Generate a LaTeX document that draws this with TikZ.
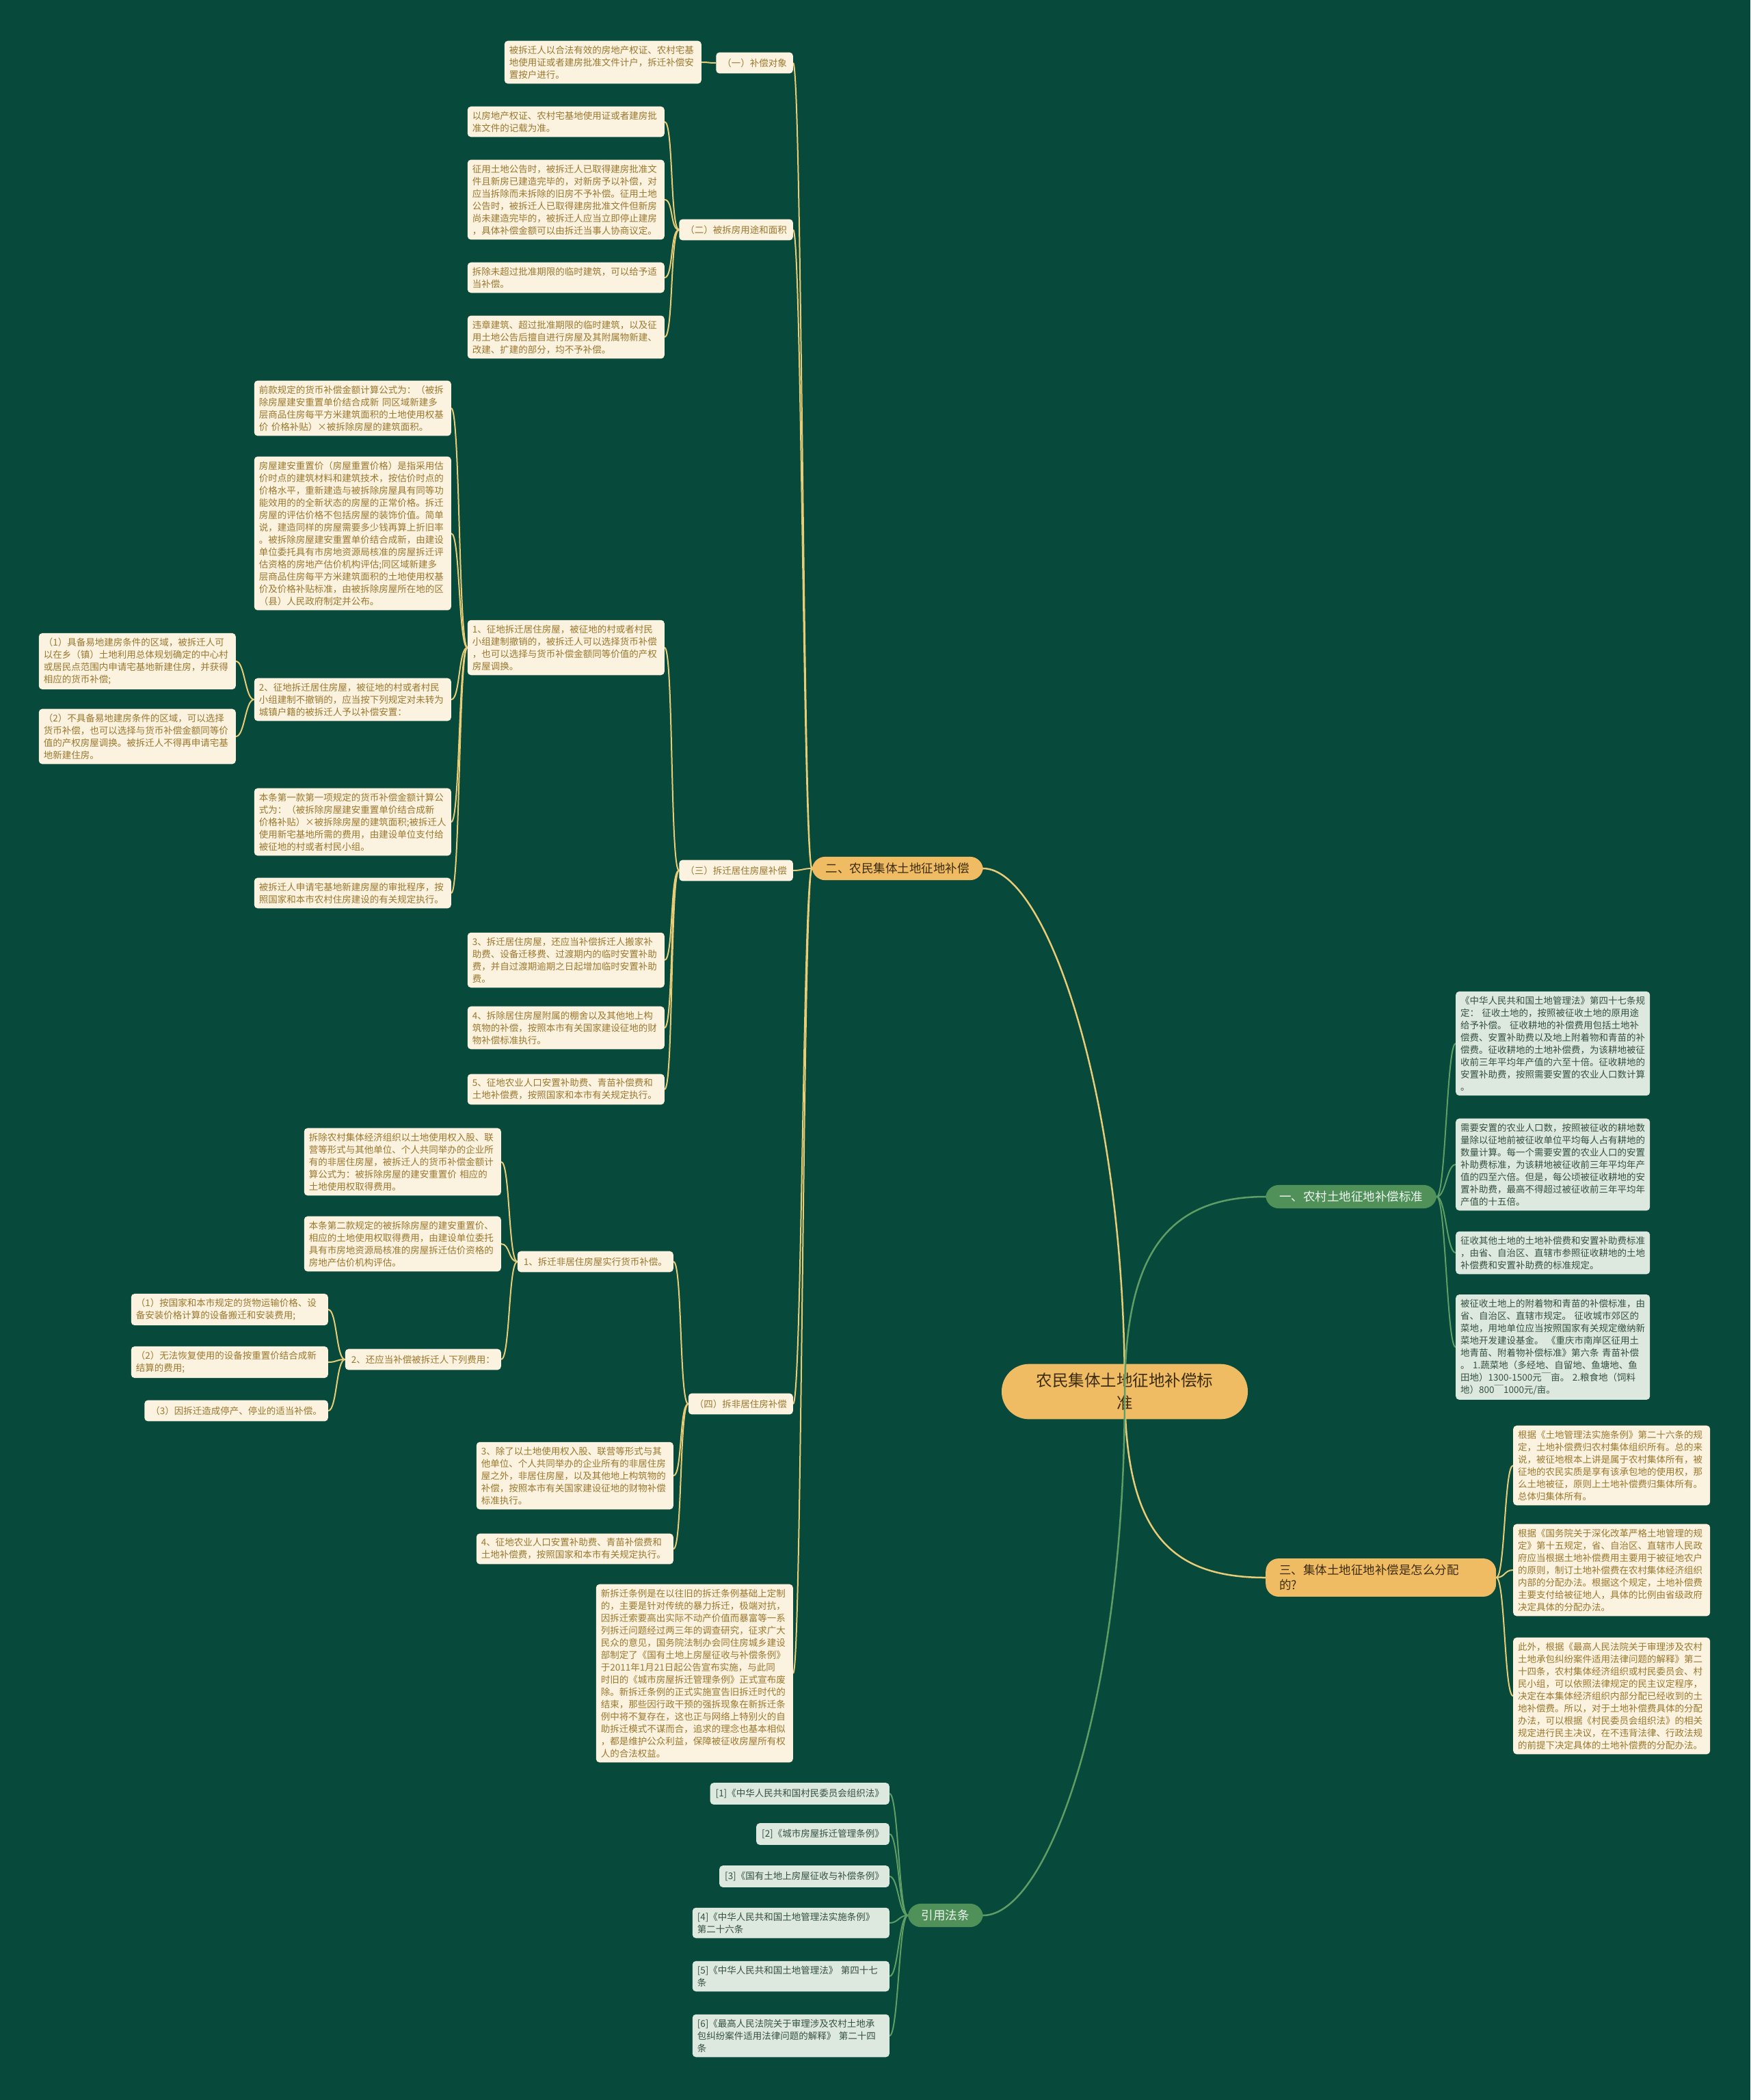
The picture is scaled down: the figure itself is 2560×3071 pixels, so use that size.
\documentclass[tikz,border=0pt]{standalone}
\usepackage{fontspec}
\setmainfont{Noto Sans CJK SC}
\usetikzlibrary{backgrounds}

\definecolor{bggreen}{HTML}{07493A}
\definecolor{cream}{HTML}{FCF2E0}
\definecolor{leaftext}{HTML}{9A782E}
\definecolor{goldline}{HTML}{E8CC78}
\definecolor{goldfill}{HTML}{F0BC63}
\definecolor{goldtext}{HTML}{3D2C0E}
\definecolor{greenfill}{HTML}{4F9159}
\definecolor{greenline}{HTML}{5E9E66}
\definecolor{greenleaf}{HTML}{DDE8DE}
\definecolor{greentext}{HTML}{35513F}

\tikzset{
  box/.style={rectangle, rounded corners=5pt, fill=cream, text=leaftext,
    font=\fontsize{13.5}{18}\selectfont, align=left, inner xsep=9pt, inner ysep=9pt},
  leaf/.style={box, text width=274pt, inner xsep=7pt, inner ysep=7pt},
  gbox/.style={box, fill=greenleaf, text=greentext, inner xsep=8pt},
  gleaf/.style={leaf, fill=greenleaf, text=greentext},
  branch/.style={rectangle, rounded corners=19pt, fill=goldfill, text=goldtext,
    font=\fontsize{17.5}{22}\selectfont, inner xsep=20pt, inner ysep=9pt},
  gbranch/.style={branch, fill=greenfill, text=white!92!greenfill},
  rootbox/.style={rectangle, rounded corners=40pt, fill=goldfill, text=goldtext,
    font=\fontsize{23.5}{33}\selectfont, text width=262pt, align=center,
    inner xsep=49pt, inner ysep=13pt},
  goldlink/.style={draw=goldline, line width=2pt},
  greenlink/.style={draw=greenline, line width=2pt}
}

\begin{document}
\begin{tikzpicture}[x=1pt, y=-1pt]
  \useasboundingbox (0,0) rectangle (2560,3071);

  % Zentrum
  \node[rootbox] (root) at (1645,2035) {农民集体土地征地补偿标\\准};

  % Hauptaeste
  \node[branch, anchor=east] (er) at (1438,1270) {二、农民集体土地征地补偿};
  \node[gbranch, anchor=west] (yi) at (1851,1750) {一、农村土地征地补偿标准};
  \node[branch, anchor=west, text width=297pt, align=left] (san) at (1851,2307) {三、集体土地征地补偿是怎么分配\\的?};
  \node[gbranch, anchor=east] (yin) at (1438,2801) {引用法条};

  % (一) Objekt
  \node[box, anchor=east] (duixiang) at (1160,92) {（一）补偿对象};
  \node[leaf, anchor=east] (t1) at (1026,91) {被拆迁人以合法有效的房地产权证、农村宅基\\地使用证或者建房批准文件计户，拆迁补偿安\\置按户进行。};

  % (二) Flaeche
  \node[box, anchor=east] (mianji) at (1160,336) {（二）被拆房用途和面积};
  \node[leaf, anchor=east] (m1) at (972,178) {以房地产权证、农村宅基地使用证或者建房批\\准文件的记载为准。};
  \node[leaf, anchor=east] (m2) at (972,292) {征用土地公告时，被拆迁人已取得建房批准文\\件且新房已建造完毕的，对新房予以补偿，对\\应当拆除而未拆除的旧房不予补偿。征用土地\\公告时，被拆迁人已取得建房批准文件但新房\\尚未建造完毕的，被拆迁人应当立即停止建房\\，具体补偿金额可以由拆迁当事人协商议定。};
  \node[leaf, anchor=east] (m3) at (972,406) {拆除未超过批准期限的临时建筑，可以给予适\\当补偿。};
  \node[leaf, anchor=east] (m4) at (972,493) {违章建筑、超过批准期限的临时建筑，以及征\\用土地公告后擅自进行房屋及其附属物新建、\\改建、扩建的部分，均不予补偿。};

  % (三) Wohnhaeuser
  \node[box, anchor=east] (juzhu) at (1160,1273) {（三）拆迁居住房屋补偿};
  \node[leaf, anchor=east] (j1) at (972,947) {1、征地拆迁居住房屋，被征地的村或者村民\\小组建制撤销的，被拆迁人可以选择货币补偿\\，也可以选择与货币补偿金额同等价值的产权\\房屋调换。};
  \node[leaf, anchor=east] (j3) at (972,1404) {3、拆迁居住房屋，还应当补偿拆迁人搬家补\\助费、设备迁移费、过渡期内的临时安置补助\\费，并自过渡期逾期之日起增加临时安置补助\\费。};
  \node[leaf, anchor=east] (j4) at (972,1503) {4、拆除居住房屋附属的棚舍以及其他地上构\\筑物的补偿，按照本市有关国家建设征地的财\\物补偿标准执行。};
  \node[leaf, anchor=east] (j5) at (972,1593) {5、征地农业人口安置补助费、青苗补偿费和\\土地补偿费，按照国家和本市有关规定执行。};
  \node[leaf, anchor=east] (p1) at (660,597) {前款规定的货币补偿金额计算公式为：（被拆\\除房屋建安重置单价结合成新 同区域新建多\\层商品住房每平方米建筑面积的土地使用权基\\价 价格补贴）×被拆除房屋的建筑面积。};
  \node[leaf, anchor=east] (p2) at (660,780) {房屋建安重置价（房屋重置价格）是指采用估\\价时点的建筑材料和建筑技术，按估价时点的\\价格水平，重新建造与被拆除房屋具有同等功\\能效用的的全新状态的房屋的正常价格。拆迁\\房屋的评估价格不包括房屋的装饰价值。简单\\说，建造同样的房屋需要多少钱再算上折旧率\\。被拆除房屋建安重置单价结合成新，由建设\\单位委托具有市房地资源局核准的房屋拆迁评\\估资格的房地产估价机构评估;同区域新建多\\层商品住房每平方米建筑面积的土地使用权基\\价及价格补贴标准，由被拆除房屋所在地的区\\（县）人民政府制定并公布。};
  \node[leaf, anchor=east] (j2) at (660,1023) {2、征地拆迁居住房屋，被征地的村或者村民\\小组建制不撤销的，应当按下列规定对未转为\\城镇户籍的被拆迁人予以补偿安置：};
  \node[leaf, anchor=east] (p4) at (660,1202) {本条第一款第一项规定的货币补偿金额计算公\\式为：（被拆除房屋建安重置单价结合成新\\价格补贴）×被拆除房屋的建筑面积;被拆迁人\\使用新宅基地所需的费用，由建设单位支付给\\被征地的村或者村民小组。};
  \node[leaf, anchor=east] (p5) at (660,1306) {被拆迁人申请宅基地新建房屋的审批程序，按\\照国家和本市农村住房建设的有关规定执行。};
  \node[leaf, anchor=east] (e1) at (345,967) {（1）具备易地建房条件的区域，被拆迁人可\\以在乡（镇）土地利用总体规划确定的中心村\\或居民点范围内申请宅基地新建住房，并获得\\相应的货币补偿;};
  \node[leaf, anchor=east] (e2) at (345,1077) {（2）不具备易地建房条件的区域，可以选择\\货币补偿，也可以选择与货币补偿金额同等价\\值的产权房屋调换。被拆迁人不得再申请宅基\\地新建住房。};

  % (四) Nichtwohnhaeuser
  \node[box, anchor=east] (feijuzhu) at (1160,2053) {（四）拆非居住房补偿};
  \node[box, anchor=east] (f1) at (985,1845) {1、拆迁非居住房屋实行货币补偿。};
  \node[leaf, anchor=east] (f3) at (985,2158) {3、除了以土地使用权入股、联营等形式与其\\他单位、个人共同举办的企业所有的非居住房\\屋之外，非居住房屋，以及其他地上构筑物的\\补偿，按照本市有关国家建设征地的财物补偿\\标准执行。};
  \node[leaf, anchor=east] (f4) at (985,2265) {4、征地农业人口安置补助费、青苗补偿费和\\土地补偿费，按照国家和本市有关规定执行。};
  \node[leaf, anchor=east] (g1) at (733,1699) {拆除农村集体经济组织以土地使用权入股、联\\营等形式与其他单位、个人共同举办的企业所\\有的非居住房屋，被拆迁人的货币补偿金额计\\算公式为：被拆除房屋的建安重置价 相应的\\土地使用权取得费用。};
  \node[leaf, anchor=east] (g2) at (733,1819) {本条第二款规定的被拆除房屋的建安重置价、\\相应的土地使用权取得费用，由建设单位委托\\具有市房地资源局核准的房屋拆迁估价资格的\\房地产估价机构评估。};
  \node[box, anchor=east] (g3) at (733,1988) {2、还应当补偿被拆迁人下列费用：};
  \node[leaf, anchor=east] (h1) at (480,1915) {（1）按国家和本市规定的货物运输价格、设\\备安装价格计算的设备搬迁和安装费用;};
  \node[leaf, anchor=east] (h2) at (480,1992) {（2）无法恢复使用的设备按重置价结合成新\\结算的费用;};
  \node[box, anchor=east] (h3) at (480,2063) {（3）因拆迁造成停产、停业的适当补偿。};
  \node[leaf, anchor=east] (tiaoli) at (1160,2447) {新拆迁条例是在以往旧的拆迁条例基础上定制\\的，主要是针对传统的暴力拆迁，极端对抗，\\因拆迁索要高出实际不动产价值而暴富等一系\\列拆迁问题经过两三年的调查研究，征求广大\\民众的意见，国务院法制办会同住房城乡建设\\部制定了《国有土地上房屋征收与补偿条例》\\于2011年1月21日起公告宣布实施，与此同\\时旧的《城市房屋拆迁管理条例》正式宣布废\\除。新拆迁条例的正式实施宣告旧拆迁时代的\\结束，那些因行政干预的强拆现象在新拆迁条\\例中将不复存在，这也正与网络上特别火的自\\助拆迁模式不谋而合，追求的理念也基本相似\\，都是维护公众利益，保障被征收房屋所有权\\人的合法权益。};

  % 一 Standard
  \node[gleaf, anchor=west, text width=270pt] (l1) at (2129,1526) {《中华人民共和国土地管理法》第四十七条规\\定： 征收土地的，按照被征收土地的原用途\\给予补偿。 征收耕地的补偿费用包括土地补\\偿费、安置补助费以及地上附着物和青苗的补\\偿费。征收耕地的土地补偿费，为该耕地被征\\收前三年平均年产值的六至十倍。征收耕地的\\安置补助费，按照需要安置的农业人口数计算\\。};
  \node[gleaf, anchor=west, text width=270pt] (l2) at (2129,1703) {需要安置的农业人口数，按照被征收的耕地数\\量除以征地前被征收单位平均每人占有耕地的\\数量计算。每一个需要安置的农业人口的安置\\补助费标准，为该耕地被征收前三年平均年产\\值的四至六倍。但是，每公顷被征收耕地的安\\置补助费，最高不得超过被征收前三年平均年\\产值的十五倍。};
  \node[gleaf, anchor=west, text width=270pt] (l3) at (2129,1832) {征收其他土地的土地补偿费和安置补助费标准\\，由省、自治区、直辖市参照征收耕地的土地\\补偿费和安置补助费的标准规定。};
  \node[gleaf, anchor=west, text width=270pt] (l4) at (2129,1970) {被征收土地上的附着物和青苗的补偿标准，由\\省、自治区、直辖市规定。 征收城市郊区的\\菜地，用地单位应当按照国家有关规定缴纳新\\菜地开发建设基金。 《重庆市南岸区征用土\\地青苗、附着物补偿标准》第六条 青苗补偿\\。 1.蔬菜地（多经地、自留地、鱼塘地、鱼\\田地）1300-1500元￣亩。 2.粮食地（饲料\\地）800￣1000元/亩。};

  % 三 Verteilung
  \node[leaf, anchor=west] (r1) at (2213,2143) {根据《土地管理法实施条例》第二十六条的规\\定，土地补偿费归农村集体组织所有。总的来\\说，被征地根本上讲是属于农村集体所有，被\\征地的农民实质是享有该承包地的使用权，那\\么土地被征，原则上土地补偿费归集体所有。\\总体归集体所有。};
  \node[leaf, anchor=west] (r2) at (2213,2296) {根据《国务院关于深化改革严格土地管理的规\\定》第十五规定，省、自治区、直辖市人民政\\府应当根据土地补偿费用主要用于被征地农户\\的原则，制订土地补偿费在农村集体经济组织\\内部的分配办法。根据这个规定，土地补偿费\\主要支付给被征地人，具体的比例由省级政府\\决定具体的分配办法。};
  \node[leaf, anchor=west] (r3) at (2213,2480) {此外，根据《最高人民法院关于审理涉及农村\\土地承包纠纷案件适用法律问题的解释》第二\\十四条，农村集体经济组织或村民委员会、村\\民小组，可以依照法律规定的民主议定程序，\\决定在本集体经济组织内部分配已经收到的土\\地补偿费。所以，对于土地补偿费具体的分配\\办法，可以根据《村民委员会组织法》的相关\\规定进行民主决议，在不违背法律、行政法规\\的前提下决定具体的土地补偿费的分配办法。};

  % Quellen
  \node[gbox, anchor=east] (q1) at (1301,2623) {[1]《中华人民共和国村民委员会组织法》};
  \node[gbox, anchor=east] (q2) at (1301,2682) {[2]《城市房屋拆迁管理条例》};
  \node[gbox, anchor=east] (q3) at (1301,2744) {[3]《国有土地上房屋征收与补偿条例》};
  \node[gleaf, anchor=east] (q4) at (1301,2812) {[4]《中华人民共和国土地管理法实施条例》\\第二十六条};
  \node[gleaf, anchor=east] (q5) at (1301,2890) {[5]《中华人民共和国土地管理法》 第四十七\\条};
  \node[gleaf, anchor=east] (q6) at (1301,2977) {[6]《最高人民法院关于审理涉及农村土地承\\包纠纷案件适用法律问题的解释》 第二十四\\条};

  % Hauptlinien (ueber dem Zentrum)
  \draw[goldlink, line width=2.5pt] (root.center) .. controls (1645,1600) and (1530,1270) .. (er.east);
  \draw[greenlink, line width=2.5pt] (root.center) .. controls (1646,1830) and (1710,1750) .. (yi.west);
  \draw[goldlink, line width=2.5pt] (root.center) .. controls (1646,2240) and (1710,2307) .. (san.west);
  \draw[greenlink, line width=2.5pt] (root.center) .. controls (1645,2500) and (1530,2801) .. (yin.east);

  % Verbindungen
  \begin{scope}[on background layer]
    \fill[bggreen] (0,0) rectangle (2560,3071);
    \foreach \p/\k in {er/duixiang,er/mianji,er/juzhu,er/feijuzhu,er/tiaoli,duixiang/t1,
        mianji/m1,mianji/m2,mianji/m3,mianji/m4,juzhu/j1,juzhu/j3,juzhu/j4,juzhu/j5,
        j1/p1,j1/p2,j1/j2,j1/p4,j1/p5,j2/e1,j2/e2,feijuzhu/f1,feijuzhu/f3,feijuzhu/f4,
        f1/g1,f1/g2,f1/g3,g3/h1,g3/h2,g3/h3}
      \draw[goldlink] (\p.west) .. controls ([xshift=-13pt]\p.west) and ([xshift=13pt]\k.east) .. (\k.east);
    \foreach \k in {l1,l2,l3,l4}
      \draw[greenlink] (yi.east) .. controls ([xshift=13pt]yi.east) and ([xshift=-13pt]\k.west) .. (\k.west);
    \foreach \k in {r1,r2,r3}
      \draw[goldlink] (san.east) .. controls ([xshift=13pt]san.east) and ([xshift=-13pt]\k.west) .. (\k.west);
    \foreach \k in {q1,q2,q3,q4,q5,q6}
      \draw[greenlink] (yin.west) .. controls ([xshift=-13pt]yin.west) and ([xshift=13pt]\k.east) .. (\k.east);
  \end{scope}
\end{tikzpicture}
\end{document}
